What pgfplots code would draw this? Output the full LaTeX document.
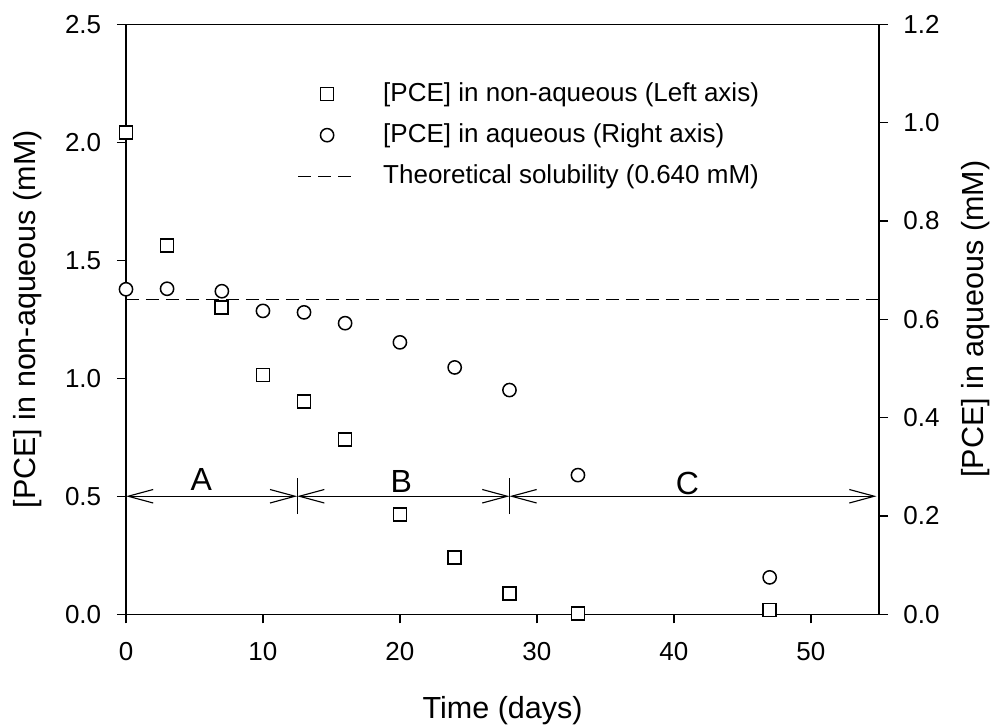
\documentclass[border=0pt]{standalone}
\usepackage{fontspec}
\setmainfont{Liberation Sans}
\usepackage{pgfplots}
\pgfplotsset{compat=1.18}
\usetikzlibrary{arrows.meta}

\tikzset{
  seg/.style={black, line width=0.45pt,
    arrows={Straight Barb[length=10pt,width=5.4pt]-Straight Barb[length=10pt,width=5.4pt]}},
}

\begin{document}
\begin{tikzpicture}
\pgfplotsset{
  every axis/.append style={
    width=301.3pt, height=236pt, scale only axis,
    xmin=0, xmax=55, clip=false,
    axis line style={line width=0.6pt},
    tick style={line width=0.6pt, black},
    major tick length=3.6pt,
    tick align=outside,
    tick label style={font=\fontsize{10.4}{12}\selectfont},
    /pgf/number format/assume math mode=true,
    yticklabel style={/pgf/number format/fixed, /pgf/number format/fixed zerofill,
                      /pgf/number format/precision=1},
  },
}

% left axis: non-aqueous PCE
\begin{axis}[
    name=ax,
    ymin=0, ymax=2.5,
    xtick={0,10,20,30,40,50},
    ytick={0,0.5,1.0,1.5,2.0,2.5},
    xtick pos=lower, ytick pos=left,
    xticklabel style={yshift=-4pt},
    yticklabel style={xshift=-2.8pt},
    xlabel={Time (days)},
    ylabel={\relax[PCE] in non-aqueous (mM)},
    every axis x label/.style={at={(axis description cs:0.5,0)}, anchor=center,
        yshift=-38.5pt, font=\fontsize{12.2}{14}\selectfont},
    every axis y label/.style={at={(axis description cs:0,0.5)}, xshift=-39.2pt,
        rotate=90, anchor=center, font=\fontsize{12.2}{14}\selectfont},
    legend style={at={(axis description cs:0.227,0.812)}, anchor=west,
                  draw=none, fill=none, inner sep=0pt, row sep=7.4pt, column sep=10.6pt,
                  font=\fontsize{10.4}{12}\selectfont, nodes={inner sep=0pt}},
    legend cell align=left,
    legend image code/.code={\draw[mark repeat=2,mark phase=2,#1]
        plot coordinates {(0pt,0pt) (11.6pt,0pt) (23.2pt,0pt)};},
]
\addplot[black, only marks, mark=square*, mark size=2.6pt,
         mark options={fill=white, draw=black, line width=0.7pt}]
  coordinates {(0,2.042) (3,1.561) (7,1.299) (10,1.014) (13,0.900) (16,0.739)
               (20,0.424) (24,0.242) (28,0.087) (33,0.004) (47,0.018)};
\addlegendentry{\relax[PCE] in non-aqueous (Left axis)}
\addlegendimage{black, only marks, mark=*, mark size=2.65pt,
                mark options={fill=white, draw=black, line width=0.6pt}}
\addlegendentry{\relax[PCE] in aqueous (Right axis)}
\addlegendimage{black, line width=0.5pt, dash pattern=on 5.2pt off 2.8pt}
\addlegendentry{Theoretical solubility (0.640 mM)}

% stages A, B, C
\addplot[seg, forget plot] coordinates {(0,0.5) (12.5,0.5)};
\addplot[seg, forget plot] coordinates {(12.5,0.5) (28,0.5)};
\addplot[seg, forget plot] coordinates {(28,0.5) (54.8,0.5)};
\addplot[black, line width=0.45pt, forget plot] coordinates {(12.5,0.424) (12.5,0.576)};
\addplot[black, line width=0.45pt, forget plot] coordinates {(28,0.424) (28,0.576)};
\node[font=\fontsize{12.8}{14}\selectfont] at (axis cs:5.5,0.571) {A};
\node[font=\fontsize{12.8}{14}\selectfont] at (axis cs:20.1,0.562) {B};
\node[font=\fontsize{12.8}{14}\selectfont] at (axis cs:41.0,0.556) {C};
\end{axis}

% right axis: aqueous PCE
\begin{axis}[
    at={(ax.south west)}, anchor=south west,
    ymin=0, ymax=1.2,
    ytick={0,0.2,0.4,0.6,0.8,1.0,1.2},
    axis x line=none, axis y line*=right, ytick pos=right,
    yticklabel style={xshift=2.5pt},
    ylabel={\relax[PCE] in aqueous (mM)},
    every axis y label/.style={at={(axis description cs:1,0.5)}, xshift=38.4pt,
        rotate=90, anchor=center, font=\fontsize{12.2}{14}\selectfont},
]
\addplot[black, line width=0.5pt, dash pattern=on 5.2pt off 2.8pt]
  coordinates {(0,0.640) (55,0.640)};
\addplot[black, only marks, mark=*, mark size=2.65pt,
         mark options={fill=white, draw=black, line width=0.6pt}]
  coordinates {(0,0.661) (3,0.662) (7,0.657) (10,0.617) (13,0.614) (16,0.592)
               (20,0.553) (24,0.502) (28,0.456) (33,0.283) (47,0.075)};
\end{axis}

\pgfresetboundingbox
\useasboundingbox ([xshift=-50.4pt,yshift=-44.3pt]ax.south west) rectangle ++(400pt,290pt);
\end{tikzpicture}
\end{document}
